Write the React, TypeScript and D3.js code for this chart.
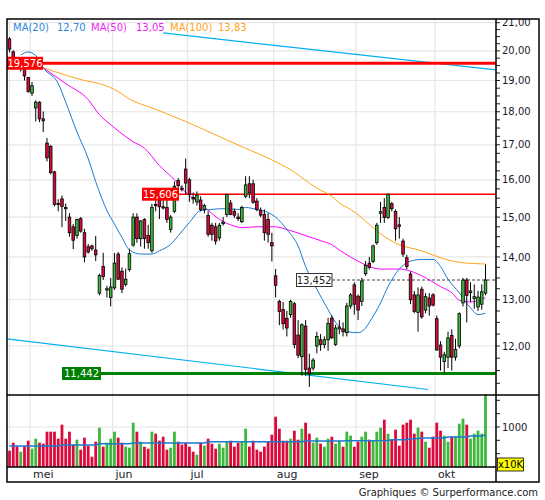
import * as d3 from 'd3';

// Daily OHLC (Apr 24 – Oct 18)
const opens = [
  20.42, 19.97, 19.62, 19.42, 19.4, 19.1, 18.59, 18.12, 18.3, 17.78,
  17.05, 16.95, 16.22, 15.36, 15.48, 15.25, 15.0, 14.75, 14.53, 14.96,
  14.6, 14.25, 14.27, 14.17, 13.15, 13.77, 13.22, 13.05, 13.27, 14.07,
  13.66, 13.35, 13.7, 14.29, 15.0, 14.45, 14.94, 14.53, 14.15, 15.33,
  15.44, 15.27, 15.25, 14.68, 15.15, 15.98, 15.77, 16.3, 16.0, 15.52,
  15.4, 15.45, 15.2, 15.04, 14.79, 14.75, 14.47, 14.83, 15.07, 15.37,
  15.15, 15.0, 14.88, 15.55, 15.89, 15.89, 15.42, 15.18, 15.07, 14.94,
  14.35, 13.55, 12.96, 12.78, 12.59, 12.67, 12.91, 12.23, 11.78, 12.42,
  11.55, 11.55, 12.0, 12.13, 12.03, 12.13, 12.59, 12.03, 12.36, 12.36,
  12.28, 12.86, 13.34, 13.08, 12.96, 13.6, 13.85, 13.89, 14.35, 15.1,
  15.25, 14.99, 15.35, 15.15, 14.8, 14.39, 13.98, 13.59, 13.11, 12.72,
  13.24, 12.77, 13.04, 13.11, 12.58, 12.02, 11.68, 11.77, 12.22, 11.77,
  12.0, 12.93, 13.45, 13.16, 13.03, 12.84, 12.9, 13.15,
];
const highs = [
  20.48, 20.02, 19.75, 19.6, 19.45, 19.12, 18.95, 18.36, 18.33, 18.01,
  17.2, 17.0, 16.25, 15.47, 15.57, 15.36, 15.1, 14.82, 14.96, 15.0,
  14.7, 14.32, 14.3, 14.52, 13.6, 14.1, 13.32, 13.5, 14.1, 14.12,
  13.75, 13.72, 14.2, 15.1, 15.1, 14.92, 14.97, 14.8, 15.35, 15.5,
  15.6, 15.5, 15.5, 15.05, 15.95, 16.05, 15.85, 16.6, 16.05, 15.65,
  15.68, 15.55, 15.35, 15.15, 14.85, 14.85, 14.85, 15.0, 15.62, 15.45,
  15.22, 15.1, 15.3, 16.1, 16.1, 16.0, 15.5, 15.25, 15.2, 15.1,
  14.6, 13.71, 13.0, 12.95, 12.75, 13.0, 12.95, 12.55, 12.48, 12.55,
  11.84, 11.75, 12.3, 12.25, 12.2, 12.6, 12.65, 12.45, 12.55, 12.5,
  12.93, 13.15, 13.4, 13.12, 13.5, 13.9, 14.0, 14.3, 14.85, 15.4,
  15.5, 15.62, 15.4, 15.2, 15.0, 14.45, 14.05, 13.65, 13.2, 13.28,
  13.3, 13.15, 13.15, 13.15, 12.65, 12.1, 11.88, 12.3, 12.35, 12.15,
  12.72, 13.5, 13.5, 13.4, 13.35, 13.2, 13.35, 13.82,
];
const lows = [
  19.95, 19.5, 19.45, 19.3, 19.0, 18.6, 18.5, 17.7, 17.68, 17.38,
  16.52, 16.15, 15.28, 15.15, 14.74, 14.9, 14.5, 14.19, 14.45, 14.6,
  13.87, 14.08, 14.15, 13.9, 13.1, 13.45, 13.05, 12.85, 13.22, 13.45,
  13.15, 13.3, 13.65, 14.25, 14.35, 14.25, 14.2, 14.2, 14.1, 15.15,
  14.95, 15.2, 14.85, 14.6, 15.1, 15.75, 15.68, 15.6, 15.4, 15.35,
  15.3, 15.15, 15.1, 14.5, 14.4, 14.3, 14.4, 14.78, 15.0, 15.05,
  14.98, 14.9, 14.85, 15.5, 15.5, 15.35, 15.15, 15.0, 14.4, 14.35,
  13.89, 13.05, 12.44, 12.35, 12.2, 12.6, 11.95, 11.75, 11.4, 11.4,
  11.18, 11.5, 11.85, 11.9, 11.95, 11.9, 12.15, 12.0, 12.25, 12.2,
  12.2, 12.8, 12.67, 12.55, 12.86, 13.55, 13.7, 13.85, 14.3, 14.85,
  14.85, 14.95, 15.15, 14.4, 14.45, 14.0, 13.7, 12.9, 12.7, 12.3,
  12.58, 12.7, 12.65, 12.85, 11.9, 11.5, 11.45, 11.55, 11.5, 11.7,
  11.95, 12.85, 12.5, 12.95, 12.8, 12.75, 12.78, 13.1,
];
const closes = [
  20.06, 19.65, 19.55, 19.5, 19.15, 18.64, 18.83, 18.3, 17.78, 17.72,
  16.62, 16.2, 15.33, 15.34, 15.28, 15.22, 14.6, 14.41, 14.94, 14.64,
  14.0, 14.12, 14.2, 14.05, 13.56, 13.53, 13.25, 13.29, 13.85, 13.47,
  13.24, 13.47, 14.08, 15.0, 14.45, 14.9, 14.45, 14.35, 15.25, 15.3,
  15.27, 15.24, 14.94, 15.0, 15.82, 15.84, 15.74, 15.91, 15.6, 15.48,
  15.58, 15.2, 15.3, 14.56, 14.56, 14.39, 14.79, 14.87, 15.6, 15.07,
  15.05, 14.96, 15.25, 15.86, 15.64, 15.39, 15.2, 15.05, 14.6, 14.56,
  14.27, 13.33, 12.74, 12.47, 12.38, 12.96, 12.03, 11.81, 12.45, 11.52,
  11.44, 11.71, 12.2, 12.03, 12.13, 12.48, 12.17, 12.38, 12.4, 12.3,
  12.86, 13.11, 12.9, 12.77, 13.43, 13.8, 13.75, 14.27, 14.79, 15.14,
  14.99, 15.606, 15.22, 14.7, 14.76, 14.07, 13.77, 13.0, 12.74, 13.11,
  12.62, 13.07, 12.86, 12.88, 11.92, 11.77, 11.82, 12.17, 11.77, 11.93,
  12.69, 13.45, 13.1, 13.2, 13.07, 13.06, 13.18, 13.452,
];

// Volume in units of 10K
const volumes = [
  408, 608, 517, 383, 517, 658, 458, 708, 608, 583,
  883, 883, 883, 708, 1058, 708, 883, 558, 683, 433,
  733, 533, 258, 633, 983, 508, 608, 708, 883, 733,
  608, 508, 483, 1108, 883, 633, 508, 458, 883, 833,
  658, 758, 433, 483, 883, 633, 558, 608, 508, 383,
  308, 608, 533, 708, 583, 458, 583, 483, 633, 658,
  508, 608, 633, 958, 508, 658, 433, 383, 508, 633,
  808, 1258, 958, 658, 658, 708, 908, 683, 958, 1108,
  833, 608, 733, 583, 508, 708, 758, 583, 658, 508,
  883, 783, 508, 633, 758, 883, 683, 658, 883, 983,
  1183, 833, 683, 933, 533, 1058, 1108, 1183, 833, 983,
  883, 633, 483, 758, 1108, 908, 783, 633, 758, 758,
  1083, 1208, 1058, 708, 833, 908, 833, 1808,
];

// Volume moving average, [bar index, value]
const volAvg: [number, number][] = [
  [0, 525], [13, 525], [14, 550], [23, 550], [24, 583], [32, 583], [33, 600],
  [52, 600], [53, 633], [78, 633], [79, 650], [89, 650], [90, 655], [101, 660],
  [102, 683], [106, 683], [107, 708], [109, 715], [110, 725], [116, 725],
  [117, 750], [122, 750], [123, 775], [126, 775], [127, 800],
];

// Moving averages, [bar index, price]
const ma20: [number, number][] = [
  [3, 19.86], [5, 19.96], [7, 19.84], [9, 19.42], [13, 18.9], [15, 18.3], [18, 17.38],
  [21, 16.6], [23, 15.95], [26, 15.17], [28, 14.82], [30, 14.48], [32, 14.17],
  [35, 14.07], [38, 14.07], [40, 14.15], [43, 14.31], [45, 14.52], [48, 14.86],
  [51, 15.17], [54, 15.2], [57, 15.22], [61, 15.2], [63, 15.25], [66, 15.2],
  [69, 15.12], [71, 15.0], [74, 14.68], [77, 14.27], [79, 13.77], [82, 13.24],
  [85, 12.78], [87, 12.5], [90, 12.3], [93, 12.28], [95, 12.38], [96, 12.5],
  [99, 12.93], [101, 13.3], [104, 13.71], [107, 13.9], [110, 13.94], [113, 13.94],
  [115, 13.77], [117, 13.47], [120, 13.16], [123, 12.82], [125, 12.67], [127, 12.7],
];
const ma50: [number, number][] = [
  [9, 19.42], [15, 18.9], [21, 18.38], [24, 17.91], [27, 17.6], [31, 17.24],
  [33, 17.09], [36, 16.9], [40, 16.4], [44, 16.0], [47, 15.66], [50, 15.42],
  [53, 15.18], [56, 14.94], [59, 14.8], [62, 14.73], [66, 14.75], [71, 14.75],
  [74, 14.68], [78, 14.56], [83, 14.4], [86, 14.3], [88, 14.17], [91, 14.0],
  [94, 13.85], [96, 13.77], [99, 13.71], [104, 13.71], [110, 13.55], [115, 13.3],
  [118, 13.16], [120, 12.99], [123, 12.95], [127, 13.05],
];
const ma100: [number, number][] = [
  [9, 19.42], [15, 19.18], [20, 19.0], [24, 18.9], [29, 18.64], [32, 18.4],
  [38, 18.12], [46, 17.75], [58, 17.14], [64, 16.85], [70, 16.56], [75, 16.28],
  [80, 15.91], [82, 15.77], [86, 15.55], [88, 15.37], [91, 15.2], [94, 14.98],
  [96, 14.81], [99, 14.57], [104, 14.3], [110, 14.15], [115, 13.98], [120, 13.87],
  [127, 13.83],
];

// Trend lines, [bar index, price] end points
const upperTrend: [number, number][] = [[41, 20.63], [129.8, 19.35]];
const lowerTrend: [number, number][] = [[-0.67, 12.15], [111.7, 11.13]];

// Month labels and the first bar of each month
const months = ['mei', 'jun', 'jul', 'aug', 'sep', 'okt'];
const monthFirstBar = [6, 28, 48, 71, 93, 114];

const priceTicks = [12, 13, 14, 15, 16, 17, 18, 19, 20, 21];
const volTicks = [333, 667, 1000, 1333, 1667];

const legend = [
  { label: 'MA(20)', value: '12,70', color: '#2f86dd' },
  { label: 'MA(50)', value: '13,05', color: '#f21ef2' },
  { label: 'MA(100)', value: '13,83', color: '#ffa31a' },
];

const FONT = 'DejaVu Sans, Verdana, sans-serif';
const UP = '#3cb83c';
const DOWN = '#dc0a3c';

const fmt = (v: number) => v.toFixed(2).replace('.', ',');
const fmt3 = (v: number) => v.toFixed(3).replace('.', ',');

export default function App() {
  const L = 7, R = 496, T = 19, PB = 395, VB = 467, B = 482, RR = 539;

  const x = d3.scaleLinear().domain([0, closes.length - 1]).range([9.5, 485.5]);
  const y = d3.scaleLog().domain([11.024, 21.135]).range([PB, T]);
  const yv = d3.scaleLinear().domain([0, 1800]).range([VB, PB]);

  const line = d3.line<[number, number]>()
    .x(d => x(d[0]))
    .y(d => y(d[1]))
    .curve(d3.curveMonotoneX);
  const straight = d3.line<[number, number]>().x(d => x(d[0])).y(d => y(d[1]));
  const volLine = d3.line<[number, number]>().x(d => x(d[0])).y(d => yv(d[1]));

  const minorTicks = d3.range(11.25, 21.01, 0.25);
  const gridX = [0, ...monthFirstBar.map(i => x(i - 0.5))];
  gridX[0] = x(0);

  const levels = [
    { v: 19.576, color: '#ff0000', width: 3, x0: L, x1: R, box: [L, 43], fill: '#ff0000', text: '#fff' },
    { v: 15.606, color: '#ff0000', width: 1.5, x0: 179, x1: R, box: [142, 179], fill: '#ff0000', text: '#fff' },
    { v: 11.442, color: '#008000', width: 3, x0: 62, x1: R, box: [62, 101], fill: '#008000', text: '#fff' },
  ];
  const lastY = y(closes[closes.length - 1]);

  return (
    <svg width={545} height={500} style={{ position: 'absolute', left: 0, top: 0, background: '#fff' }}
      fontFamily={FONT}>
      <defs>
        <clipPath id="pc"><rect x={L} y={T} width={R - L} height={PB - T} /></clipPath>
        <clipPath id="ax"><rect x={R} y={T} width={RR - R} height={B - T} /></clipPath>
      </defs>
      <rect x={0} y={0} width={545} height={500} fill="#fff" />

      {/* grid */}
      {priceTicks.map(t => (
        <line key={'g' + t} x1={L} x2={R} y1={y(t)} y2={y(t)} stroke="#e6e6e6" strokeWidth={1.2} />
      ))}
      <line x1={L} x2={R} y1={yv(1000)} y2={yv(1000)} stroke="#e6e6e6" strokeWidth={1.2} />
      {gridX.map((gx, i) => (
        <line key={'v' + i} x1={gx} x2={gx} y1={T} y2={VB} stroke="#e6e6e6" strokeWidth={1.2} />
      ))}

      <g clipPath="url(#pc)">
        {/* trend lines */}
        <path d={straight(upperTrend) || ''} fill="none" stroke="#00b0f0" strokeWidth={1.2} />
        <path d={straight(lowerTrend) || ''} fill="none" stroke="#00b0f0" strokeWidth={1.2} />

        {/* support / resistance levels */}
        {levels.map(l => (
          <line key={'l' + l.v} x1={l.x0} x2={l.x1} y1={y(l.v)} y2={y(l.v)} stroke={l.color} strokeWidth={l.width} />
        ))}
        <line x1={332} x2={R} y1={lastY} y2={lastY} stroke="#444" strokeWidth={1} strokeDasharray="3,2" />

        {/* moving averages */}
        <path d={line(ma100) || ''} fill="none" stroke="#ffa31a" strokeWidth={1} />
        <path d={line(ma50) || ''} fill="none" stroke="#ff00ff" strokeWidth={1} />
        <path d={line(ma20) || ''} fill="none" stroke="#1a7ad0" strokeWidth={1} />

        {/* candles */}
        {closes.map((c, i) => {
          const o = opens[i];
          const cx = x(i);
          const top = y(Math.max(o, c));
          const h = Math.max(1.2, y(Math.min(o, c)) - top);
          return (
            <g key={'c' + i}>
              <line x1={cx} x2={cx} y1={y(highs[i])} y2={y(lows[i])} stroke="#000" strokeWidth={1} />
              <rect x={cx - 1.3} y={top} width={2.6} height={h}
                fill={c >= o ? UP : DOWN} stroke="#000" strokeWidth={0.8} />
            </g>
          );
        })}
      </g>

      {/* volume */}
      {volumes.map((v, i) => (
        <rect key={'v' + i} x={x(i) - 1.4} y={yv(v)} width={2.8} height={VB - yv(v)}
          fill={closes[i] >= opens[i] ? UP : DOWN} />
      ))}
      <path d={volLine(volAvg) || ''} fill="none" stroke="#1a7ad0" strokeWidth={1.5} />

      {/* level labels */}
      {levels.map(l => (
        <g key={'b' + l.v}>
          <rect x={l.box[0]} y={y(l.v) - 6.5} width={l.box[1] - l.box[0]} height={13} fill={l.fill} />
          <text x={(l.box[0] + l.box[1]) / 2} y={y(l.v)} dy="0.36em" textAnchor="middle"
            fontSize={10} fill={l.text}>{fmt3(l.v)}</text>
        </g>
      ))}
      <rect x={296.5} y={lastY - 6.5} width={35.5} height={13} fill="#fff" stroke="#333" strokeWidth={1} />
      <text x={314.2} y={lastY} dy="0.36em" textAnchor="middle" fontSize={10} fill="#222">
        {fmt3(closes[closes.length - 1])}
      </text>

      {/* legend */}
      {(() => {
        const xs = [13, 57, 91, 136, 170, 218];
        return legend.flatMap((lg, k) => [
          <text key={'ll' + k} x={xs[k * 2]} y={31} fontSize={10} fill={lg.color}>{lg.label}</text>,
          <text key={'lv' + k} x={xs[k * 2 + 1]} y={31} fontSize={10} fill={lg.color}>{lg.value}</text>,
        ]);
      })()}

      {/* right axis */}
      <g clipPath="url(#ax)">
        {minorTicks.map(t => (
          <line key={'m' + t} x1={R} x2={R + 4} y1={y(t)} y2={y(t)} stroke="#222" strokeWidth={1} />
        ))}
        {priceTicks.map(t => (
          <text key={'t' + t} x={R + 6} y={y(t)} dy="0.36em" fontSize={10} fill="#1a1a2a">{fmt(t)}</text>
        ))}
      </g>
      {volTicks.map(t => (
        <line key={'vt' + t} x1={R} x2={R + 4} y1={yv(t)} y2={yv(t)} stroke="#222" strokeWidth={1} />
      ))}
      <text x={R + 6} y={yv(1000)} dy="0.36em" fontSize={10} fill="#1a1a2a">1000</text>
      <rect x={497.5} y={458} width={26} height={13} fill="#ffff00" stroke="#000" strokeWidth={0.8} />
      <text x={510.5} y={464.5} dy="0.36em" textAnchor="middle" fontSize={10} fill="#000">x10K</text>

      {/* month labels */}
      {months.map((m, k) => (
        <text key={m} x={x(monthFirstBar[k] - 0.5) + 3} y={478} fontSize={11} fill="#1a1a2a">{m}</text>
      ))}

      {/* frame */}
      <rect x={L} y={T} width={RR - L} height={B - T} fill="none" stroke="#000" strokeWidth={1.5} />
      <line x1={R} x2={R} y1={T} y2={B} stroke="#000" strokeWidth={1.5} />
      <line x1={L} x2={RR} y1={PB} y2={PB} stroke="#000" strokeWidth={1.5} />
      <line x1={L} x2={R} y1={VB} y2={VB} stroke="#000" strokeWidth={1.5} />

      <text x={538} y={496} textAnchor="end" fontSize={10} fill="#222">Graphiques © Surperformance.com</text>
    </svg>
  );
}
